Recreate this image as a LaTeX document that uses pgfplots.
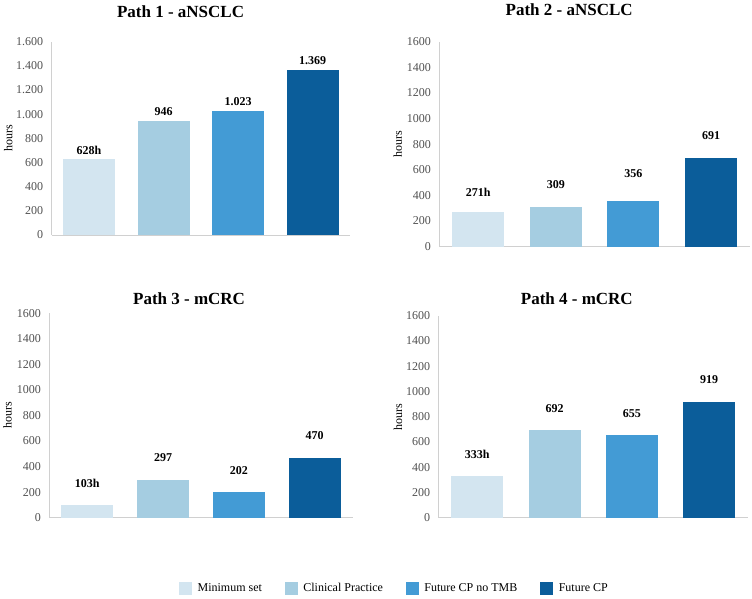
\documentclass[border=0pt]{standalone}
\usepackage{fontspec}
\setmainfont{Liberation Serif}
\usepackage{pgfplots}
\pgfplotsset{compat=1.18}
\definecolor{cA}{HTML}{D3E5F0}
\definecolor{cB}{HTML}{A5CDE1}
\definecolor{cC}{HTML}{439BD5}
\definecolor{cD}{HTML}{0B5D9A}
\definecolor{axisgray}{HTML}{D0D0D0}
\definecolor{tickgray}{HTML}{505050}
\tikzset{vlab/.style={font=\bfseries\fontsize{12}{14}\selectfont, anchor=center}}
\pgfplotsset{
 every axis title shift=0pt,
 panel/.style={
  scale only axis, anchor=south west,
  ybar, bar width=52pt, bar shift=0pt,
  xmin=-0.5, xmax=3.5, ymin=0, ymax=1600,
  enlargelimits=false, clip=false,
  axis x line=bottom, axis y line=left,
  axis line style={draw=axisgray, line width=0.8pt, -},
  xtick=\empty,
  ytick={0,200,...,1600},
  major tick length=0pt,
  /pgf/number format/assume math mode=true,
  yticklabel style={font=\fontsize{12}{14}\selectfont, text=tickgray, xshift=-5pt},
  ylabel={hours},
  title style={font=\bfseries\fontsize{17}{20}\selectfont, anchor=center},
 },
 ylab/.style={every axis y label/.style={at={(axis description cs:#1,0.5)}, rotate=90, anchor=center, font=\fontsize{12}{14}\selectfont}},
}
\begin{document}
\begin{tikzpicture}
\useasboundingbox (0pt,0pt) rectangle (752pt,599pt);
% Panel 1
\begin{axis}[panel, at={(51.7pt,364pt)}, width=298.3pt, height=193.3pt,
  /pgf/number format/1000 sep={.},
  title={Path 1 - aNSCLC}, title style={at={(axis description cs:0.432,1.154)}},
  ylab=-0.146]
\addplot[fill=cA, draw=none] coordinates {(0,628)};
\addplot[fill=cB, draw=none] coordinates {(1,946)};
\addplot[fill=cC, draw=none] coordinates {(2,1023)};
\addplot[fill=cD, draw=none] coordinates {(3,1369)};
\node[vlab] at (axis cs:0,704) {628h};
\node[vlab] at (axis cs:1,1021) {946};
\node[vlab] at (axis cs:2,1103) {1.023};
\node[vlab] at (axis cs:3,1443) {1.369};
\end{axis}
% Panel 2
\begin{axis}[panel, at={(439.3pt,352.3pt)}, width=310.7pt, height=205pt,
  /pgf/number format/1000 sep={},
  title={Path 2 - aNSCLC}, title style={at={(axis description cs:0.418,1.155)}},
  ylab=-0.134]
\addplot[fill=cA, draw=none] coordinates {(0,271)};
\addplot[fill=cB, draw=none] coordinates {(1,309)};
\addplot[fill=cC, draw=none] coordinates {(2,356)};
\addplot[fill=cD, draw=none] coordinates {(3,691)};
\node[vlab] at (axis cs:0,427) {271h};
\node[vlab] at (axis cs:1,482) {309};
\node[vlab] at (axis cs:2,567) {356};
\node[vlab] at (axis cs:3,864) {691};
\end{axis}
% Panel 3
\begin{axis}[panel, at={(49.3pt,81.3pt)}, width=303.2pt, height=204.4pt,
  /pgf/number format/1000 sep={},
  title={Path 3 - mCRC}, title style={at={(axis description cs:0.461,1.073)}},
  ylab=-0.138]
\addplot[fill=cA, draw=none] coordinates {(0,103)};
\addplot[fill=cB, draw=none] coordinates {(1,297)};
\addplot[fill=cC, draw=none] coordinates {(2,202)};
\addplot[fill=cD, draw=none] coordinates {(3,470)};
\node[vlab] at (axis cs:0,270) {103h};
\node[vlab] at (axis cs:1,471) {297};
\node[vlab] at (axis cs:2,372) {202};
\node[vlab] at (axis cs:3,646) {470};
\end{axis}
% Panel 4
\begin{axis}[panel, at={(438.7pt,81.3pt)}, width=309pt, height=202pt,
  /pgf/number format/1000 sep={},
  title={Path 4 - mCRC}, title style={at={(axis description cs:0.447,1.086)}},
  ylab=-0.132]
\addplot[fill=cA, draw=none] coordinates {(0,333)};
\addplot[fill=cB, draw=none] coordinates {(1,692)};
\addplot[fill=cC, draw=none] coordinates {(2,655)};
\addplot[fill=cD, draw=none] coordinates {(3,919)};
\node[vlab] at (axis cs:0,502) {333h};
\node[vlab] at (axis cs:1,867) {692};
\node[vlab] at (axis cs:2,827) {655};
\node[vlab] at (axis cs:3,1096) {919};
\end{axis}
% Legend
\begin{axis}[scale only axis, anchor=south west, at={(0pt,0pt)}, width=752pt, height=599pt,
  hide axis, xmin=0, xmax=1, ymin=0, ymax=1,
  legend columns=4,
  legend style={draw=none, fill=none, at={(axis description cs:0.5246,0.0179)}, anchor=center,
    font=\fontsize{12}{14}\selectfont, cells={anchor=west},
    /tikz/every odd column/.append style={column sep=4pt},
    /tikz/every even column/.append style={column sep=21pt}}]
\addlegendimage{legend image code/.code={\fill[cA] (0pt,-6pt) rectangle (12pt,6pt);}}
\addlegendentry{Minimum set}
\addlegendimage{legend image code/.code={\fill[cB] (0pt,-6pt) rectangle (12pt,6pt);}}
\addlegendentry{Clinical Practice}
\addlegendimage{legend image code/.code={\fill[cC] (0pt,-6pt) rectangle (12pt,6pt);}}
\addlegendentry{Future CP no TMB}
\addlegendimage{legend image code/.code={\fill[cD] (0pt,-6pt) rectangle (12pt,6pt);}}
\addlegendentry{Future CP}
\end{axis}
\end{tikzpicture}
\end{document}
